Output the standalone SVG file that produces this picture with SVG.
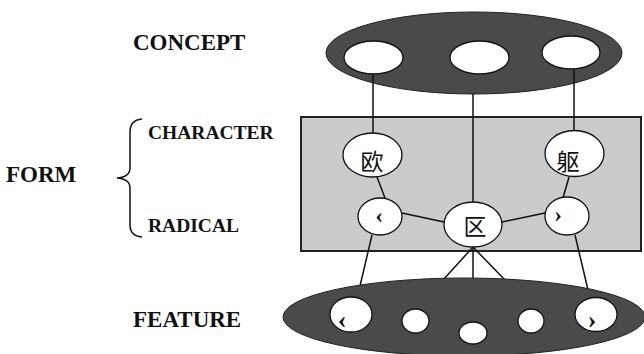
<svg xmlns="http://www.w3.org/2000/svg" width="644" height="354" viewBox="0 0 644 354">
<style>
.lbl{font-family:"Liberation Serif","Times New Roman",serif;font-weight:bold;fill:#111}
.big{font-size:23px}
.sm{font-size:19.5px}
.dark{fill:#4a4a4a;stroke:#222;stroke-width:1}
.wn{fill:#fff;stroke:#111;stroke-width:1.3}
.cjk{font-family:"Liberation Serif","Noto Sans CJK SC",serif;font-size:23px;fill:#111;text-anchor:middle}
.ang{font-family:"Liberation Serif",serif;font-weight:bold;fill:#111;text-anchor:middle}
.ln{stroke:#111;stroke-width:1.5;fill:none}
</style>
<rect width="644" height="354" fill="#fff"/>
<g id="labels">
<text class="lbl big" x="133" y="50">CONCEPT</text>
<text class="lbl big" x="6" y="182">FORM</text>
<text class="lbl sm" x="148" y="139">CHARACTER</text>
<text class="lbl sm" x="148" y="232">RADICAL</text>
<text class="lbl big" x="133" y="327">FEATURE</text>
<path class="ln" d="M142,119 Q130,120 130,132 L130,168 Q130,177 117,178 Q130,179 130,188 L130,225 Q130,236 142,237"/>
</g>
<g id="concept">
<ellipse class="dark" cx="474" cy="53" rx="148" ry="41"/>
<ellipse class="wn" cx="373.5" cy="57.5" rx="29.5" ry="16.5"/>
<ellipse class="wn" cx="479.5" cy="57.5" rx="29.5" ry="16.5"/>
<ellipse class="wn" cx="571" cy="52.5" rx="29" ry="16.5"/>
</g>
<g id="form">
<rect x="301" y="117" width="340" height="134" fill="#cbcbcb" stroke="#222" stroke-width="2"/>
</g>
<g id="connectors">
<line class="ln" x1="373" y1="74" x2="373" y2="133"/>
<line class="ln" x1="473" y1="94" x2="473" y2="202"/>
<line class="ln" x1="574" y1="69" x2="574" y2="130"/>
<line class="ln" x1="377" y1="177" x2="385" y2="198"/>
<line class="ln" x1="402" y1="213" x2="444" y2="222"/>
<line class="ln" x1="502" y1="222" x2="545" y2="213"/>
<line class="ln" x1="569" y1="177" x2="563" y2="198"/>
<line class="ln" x1="372" y1="235" x2="360" y2="286"/>
<line class="ln" x1="575" y1="235" x2="588" y2="290"/>
<line class="ln" x1="473" y1="247" x2="443" y2="280"/>
<line class="ln" x1="473" y1="247" x2="473" y2="279"/>
<line class="ln" x1="473" y1="247" x2="505" y2="280"/>
</g>
<g id="char-ou">
<ellipse class="wn" cx="372.5" cy="155" rx="29.5" ry="22"/>
<text class="cjk" x="372" y="170">欧</text>
</g>
<g id="char-qu">
<ellipse class="wn" cx="574.5" cy="153.5" rx="29.5" ry="23"/>
<text class="cjk" x="568" y="170">躯</text>
</g>
<g id="rad-left">
<ellipse class="wn" cx="380" cy="216.5" rx="22" ry="18.5"/>
<text class="ang" x="379" y="223" font-size="23">‹</text>
</g>
<g id="rad-qu">
<ellipse class="wn" cx="473" cy="224.5" rx="29" ry="22.5"/>
<text class="cjk" x="475" y="235">区</text>
</g>
<g id="rad-right">
<ellipse class="wn" cx="567" cy="216" rx="22" ry="19"/>
<text class="ang" x="558" y="222" font-size="23">›</text>
</g>
<g id="feature">
<ellipse class="dark" cx="464" cy="317" rx="181" ry="39"/>
<ellipse class="wn" cx="351" cy="314.5" rx="21" ry="17.5"/>
<text class="ang" x="342" y="328" font-size="26">‹</text>
<ellipse class="wn" cx="415.5" cy="321" rx="13.5" ry="12"/>
<ellipse class="wn" cx="473" cy="333" rx="14" ry="11"/>
<ellipse class="wn" cx="531" cy="321" rx="13" ry="12"/>
<ellipse class="wn" cx="596" cy="314.5" rx="21" ry="17"/>
<text class="ang" x="592" y="328" font-size="26">›</text>
</g>
</svg>
